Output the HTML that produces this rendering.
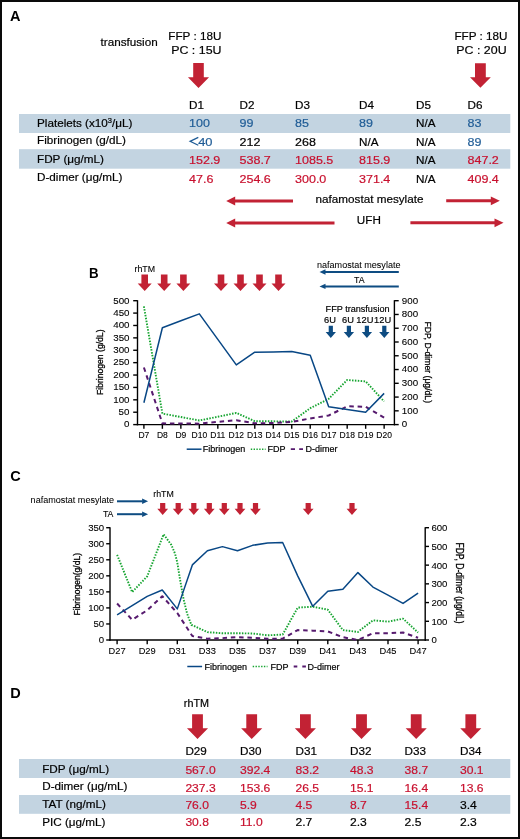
<!DOCTYPE html>
<html><head><meta charset="utf-8"><title>Figure</title>
<style>
html,body{margin:0;padding:0;background:#fff;}
body{width:520px;height:839px;overflow:hidden;font-family:"Liberation Sans",sans-serif;}
#fig{position:absolute;left:0;top:0;width:520px;height:839px;box-sizing:border-box;border:2px solid #0a0a0a;}
svg{position:absolute;left:0;top:0;will-change:transform;}
svg text{font-family:"Liberation Sans",sans-serif;}
</style></head>
<body>
<div id="fig"></div>
<svg width="520" height="839" viewBox="0 0 520 839">
<text x="10.00" y="21.30" font-size="14.50" fill="#000" font-weight="bold">A</text>
<text x="100.50" y="45.50" font-size="11.70" fill="#000" stroke="#000" stroke-width="0.20">transfusion</text>
<text x="168.30" y="39.60" font-size="11.70" fill="#000" stroke="#000" stroke-width="0.20">FFP : 18U</text>
<text x="171.20" y="53.80" font-size="11.70" fill="#000" textLength="50.30" lengthAdjust="spacingAndGlyphs" stroke="#000" stroke-width="0.20">PC : 15U</text>
<text x="454.40" y="39.60" font-size="11.70" fill="#000" stroke="#000" stroke-width="0.20">FFP : 18U</text>
<text x="456.30" y="53.60" font-size="11.70" fill="#000" textLength="50.30" lengthAdjust="spacingAndGlyphs" stroke="#000" stroke-width="0.20">PC : 20U</text>
<polygon points="193.20,63.10 203.80,63.10 203.80,77.20 209.05,77.20 198.50,88.10 187.95,77.20 193.20,77.20" fill="#C22234"/>
<polygon points="475.00,63.30 485.80,63.30 485.80,77.20 490.80,77.20 480.40,87.80 470.00,77.20 475.00,77.20" fill="#C22234"/>
<text x="189.00" y="109.00" font-size="11.70" fill="#000" stroke="#000" stroke-width="0.20">D1</text>
<text x="239.50" y="109.00" font-size="11.70" fill="#000" stroke="#000" stroke-width="0.20">D2</text>
<text x="295.00" y="109.00" font-size="11.70" fill="#000" stroke="#000" stroke-width="0.20">D3</text>
<text x="359.00" y="109.00" font-size="11.70" fill="#000" stroke="#000" stroke-width="0.20">D4</text>
<text x="416.00" y="109.00" font-size="11.70" fill="#000" stroke="#000" stroke-width="0.20">D5</text>
<text x="467.50" y="109.00" font-size="11.70" fill="#000" stroke="#000" stroke-width="0.20">D6</text>
<rect x="19" y="114" width="491.3" height="19" fill="#C3D4E1"/>
<rect x="19" y="149.2" width="491.3" height="19.5" fill="#C3D4E1"/>
<polyline points="198.3,137.4 190.1,141.35 198.3,145.3" fill="none" stroke="#1F5C96" stroke-width="1.25" stroke-linejoin="miter"/>
<text x="198.20" y="145.60" font-size="11.70" fill="#1F5C96" textLength="14.32" lengthAdjust="spacingAndGlyphs" stroke="#1F5C96" stroke-width="0.20">40</text>
<text x="37.00" y="127.00" font-size="11.70" fill="#000" stroke="#000" stroke-width="0.20">Platelets (x10<tspan font-size="7.5" dy="-4">3</tspan><tspan dy="4">/μL)</tspan></text>
<text x="189.00" y="127.10" font-size="11.70" fill="#1F5C96" textLength="20.89" lengthAdjust="spacingAndGlyphs" stroke="#1F5C96" stroke-width="0.20">100</text>
<text x="239.50" y="127.10" font-size="11.70" fill="#1F5C96" textLength="13.93" lengthAdjust="spacingAndGlyphs" stroke="#1F5C96" stroke-width="0.20">99</text>
<text x="295.00" y="127.10" font-size="11.70" fill="#1F5C96" textLength="13.93" lengthAdjust="spacingAndGlyphs" stroke="#1F5C96" stroke-width="0.20">85</text>
<text x="359.00" y="127.10" font-size="11.70" fill="#1F5C96" textLength="13.93" lengthAdjust="spacingAndGlyphs" stroke="#1F5C96" stroke-width="0.20">89</text>
<text x="416.00" y="127.10" font-size="11.70" fill="#000" textLength="19.50" lengthAdjust="spacingAndGlyphs" stroke="#000" stroke-width="0.20">N/A</text>
<text x="467.50" y="127.10" font-size="11.70" fill="#1F5C96" textLength="13.93" lengthAdjust="spacingAndGlyphs" stroke="#1F5C96" stroke-width="0.20">83</text>
<text x="37.00" y="144.30" font-size="11.70" fill="#000" stroke="#000" stroke-width="0.20">Fibrinogen (g/dL)</text>
<text x="239.50" y="145.60" font-size="11.70" fill="#000" textLength="20.89" lengthAdjust="spacingAndGlyphs" stroke="#000" stroke-width="0.20">212</text>
<text x="295.00" y="145.60" font-size="11.70" fill="#000" textLength="20.89" lengthAdjust="spacingAndGlyphs" stroke="#000" stroke-width="0.20">268</text>
<text x="359.00" y="145.60" font-size="11.70" fill="#000" textLength="19.50" lengthAdjust="spacingAndGlyphs" stroke="#000" stroke-width="0.20">N/A</text>
<text x="416.00" y="145.60" font-size="11.70" fill="#000" textLength="19.50" lengthAdjust="spacingAndGlyphs" stroke="#000" stroke-width="0.20">N/A</text>
<text x="467.50" y="145.60" font-size="11.70" fill="#1F5C96" textLength="13.93" lengthAdjust="spacingAndGlyphs" stroke="#1F5C96" stroke-width="0.20">89</text>
<text x="37.00" y="162.50" font-size="11.70" fill="#000" stroke="#000" stroke-width="0.20">FDP (μg/mL)</text>
<text x="189.00" y="164.20" font-size="11.70" fill="#C8102E" textLength="31.33" lengthAdjust="spacingAndGlyphs" stroke="#C8102E" stroke-width="0.20">152.9</text>
<text x="239.50" y="164.20" font-size="11.70" fill="#C8102E" textLength="31.33" lengthAdjust="spacingAndGlyphs" stroke="#C8102E" stroke-width="0.20">538.7</text>
<text x="295.00" y="164.20" font-size="11.70" fill="#C8102E" textLength="38.29" lengthAdjust="spacingAndGlyphs" stroke="#C8102E" stroke-width="0.20">1085.5</text>
<text x="359.00" y="164.20" font-size="11.70" fill="#C8102E" textLength="31.33" lengthAdjust="spacingAndGlyphs" stroke="#C8102E" stroke-width="0.20">815.9</text>
<text x="416.00" y="164.20" font-size="11.70" fill="#000" textLength="19.50" lengthAdjust="spacingAndGlyphs" stroke="#000" stroke-width="0.20">N/A</text>
<text x="467.50" y="164.20" font-size="11.70" fill="#C8102E" textLength="31.33" lengthAdjust="spacingAndGlyphs" stroke="#C8102E" stroke-width="0.20">847.2</text>
<text x="37.00" y="180.70" font-size="11.70" fill="#000" stroke="#000" stroke-width="0.20">D-dimer (μg/mL)</text>
<text x="189.00" y="182.60" font-size="11.70" fill="#C8102E" textLength="24.37" lengthAdjust="spacingAndGlyphs" stroke="#C8102E" stroke-width="0.20">47.6</text>
<text x="239.50" y="182.60" font-size="11.70" fill="#C8102E" textLength="31.33" lengthAdjust="spacingAndGlyphs" stroke="#C8102E" stroke-width="0.20">254.6</text>
<text x="295.00" y="182.60" font-size="11.70" fill="#C8102E" textLength="31.33" lengthAdjust="spacingAndGlyphs" stroke="#C8102E" stroke-width="0.20">300.0</text>
<text x="359.00" y="182.60" font-size="11.70" fill="#C8102E" textLength="31.33" lengthAdjust="spacingAndGlyphs" stroke="#C8102E" stroke-width="0.20">371.4</text>
<text x="416.00" y="182.60" font-size="11.70" fill="#000" textLength="19.50" lengthAdjust="spacingAndGlyphs" stroke="#000" stroke-width="0.20">N/A</text>
<text x="467.50" y="182.60" font-size="11.70" fill="#C8102E" textLength="31.33" lengthAdjust="spacingAndGlyphs" stroke="#C8102E" stroke-width="0.20">409.4</text>
<line x1="234.70" y1="201.00" x2="293.00" y2="201.00" stroke="#C22234" stroke-width="3.00"/>
<polygon points="226.20,201.00 235.20,196.60 235.20,205.40" fill="#C22234"/>
<line x1="446.20" y1="200.80" x2="491.30" y2="200.80" stroke="#C22234" stroke-width="3.00"/>
<polygon points="499.80,200.80 490.80,196.40 490.80,205.20" fill="#C22234"/>
<text x="315.60" y="203.20" font-size="11.70" fill="#000" stroke="#000" stroke-width="0.20">nafamostat mesylate</text>
<line x1="234.70" y1="223.00" x2="334.50" y2="223.00" stroke="#C22234" stroke-width="3.00"/>
<polygon points="226.20,223.00 235.20,218.60 235.20,227.40" fill="#C22234"/>
<line x1="410.40" y1="222.80" x2="495.00" y2="222.80" stroke="#C22234" stroke-width="3.00"/>
<polygon points="503.50,222.80 494.50,218.40 494.50,227.20" fill="#C22234"/>
<text x="356.80" y="224.40" font-size="11.70" fill="#000" stroke="#000" stroke-width="0.20">UFH</text>
<text x="89.00" y="277.60" font-size="14.50" fill="#000" font-weight="bold" textLength="9.60" lengthAdjust="spacingAndGlyphs">B</text>
<text x="134.50" y="272.40" font-size="8.80" fill="#000" stroke="#000" stroke-width="0.10">rhTM</text>
<polygon points="141.40,274.40 148.00,274.40 148.00,283.60 151.70,283.60 144.70,291.00 137.70,283.60 141.40,283.60" fill="#C22234"/>
<polygon points="160.90,274.40 167.50,274.40 167.50,283.60 171.20,283.60 164.20,291.00 157.20,283.60 160.90,283.60" fill="#C22234"/>
<polygon points="180.10,274.40 186.70,274.40 186.70,283.60 190.40,283.60 183.40,291.00 176.40,283.60 180.10,283.60" fill="#C22234"/>
<polygon points="217.70,274.40 224.30,274.40 224.30,283.60 228.00,283.60 221.00,291.00 214.00,283.60 217.70,283.60" fill="#C22234"/>
<polygon points="237.20,274.40 243.80,274.40 243.80,283.60 247.50,283.60 240.50,291.00 233.50,283.60 237.20,283.60" fill="#C22234"/>
<polygon points="256.20,274.40 262.80,274.40 262.80,283.60 266.50,283.60 259.50,291.00 252.50,283.60 256.20,283.60" fill="#C22234"/>
<polygon points="275.20,274.40 281.80,274.40 281.80,283.60 285.50,283.60 278.50,291.00 271.50,283.60 275.20,283.60" fill="#C22234"/>
<text x="317.00" y="267.80" font-size="9.05" fill="#000" stroke="#000" stroke-width="0.05">nafamostat mesylate</text>
<line x1="325.00" y1="272.00" x2="398.80" y2="272.00" stroke="#0E4C82" stroke-width="2.00"/>
<polygon points="319.50,272.00 325.50,269.30 325.50,274.70" fill="#0E4C82"/>
<text x="354.00" y="283.30" font-size="8.80" fill="#000" stroke="#000" stroke-width="0.10">TA</text>
<line x1="325.00" y1="286.40" x2="398.80" y2="286.40" stroke="#0E4C82" stroke-width="2.00"/>
<polygon points="319.50,286.40 325.50,283.70 325.50,289.10" fill="#0E4C82"/>
<text x="325.60" y="311.60" font-size="9.10" fill="#000" stroke="#000" stroke-width="0.18">FFP transfusion</text>
<text x="324.00" y="323.10" font-size="9.30" fill="#000" stroke="#000" stroke-width="0.18">6U</text>
<text x="342.00" y="323.10" font-size="9.30" fill="#000" stroke="#000" stroke-width="0.18">6U</text>
<text x="356.30" y="323.10" font-size="9.30" fill="#000" stroke="#000" stroke-width="0.18">12U</text>
<text x="374.10" y="323.10" font-size="9.30" fill="#000" stroke="#000" stroke-width="0.18">12U</text>
<polygon points="328.70,325.70 332.90,325.70 332.90,332.00 335.95,332.00 330.80,337.90 325.65,332.00 328.70,332.00" fill="#0E4C82"/>
<polygon points="346.80,325.70 351.00,325.70 351.00,332.00 354.05,332.00 348.90,337.90 343.75,332.00 346.80,332.00" fill="#0E4C82"/>
<polygon points="364.80,325.70 369.00,325.70 369.00,332.00 372.05,332.00 366.90,337.90 361.75,332.00 364.80,332.00" fill="#0E4C82"/>
<polygon points="382.20,325.70 386.40,325.70 386.40,332.00 389.45,332.00 384.30,337.90 379.15,332.00 382.20,332.00" fill="#0E4C82"/>
<g stroke="#000" stroke-width="1.4" fill="none">
<line x1="137.50" y1="300.20" x2="137.50" y2="425.30"/>
<line x1="394.40" y1="300.20" x2="394.40" y2="425.30"/>
<line x1="136.80" y1="424.60" x2="395.10" y2="424.60"/>
<line x1="133.20" y1="424.60" x2="137.50" y2="424.60"/>
<line x1="133.20" y1="412.21" x2="137.50" y2="412.21"/>
<line x1="133.20" y1="399.82" x2="137.50" y2="399.82"/>
<line x1="133.20" y1="387.43" x2="137.50" y2="387.43"/>
<line x1="133.20" y1="375.04" x2="137.50" y2="375.04"/>
<line x1="133.20" y1="362.65" x2="137.50" y2="362.65"/>
<line x1="133.20" y1="350.26" x2="137.50" y2="350.26"/>
<line x1="133.20" y1="337.87" x2="137.50" y2="337.87"/>
<line x1="133.20" y1="325.48" x2="137.50" y2="325.48"/>
<line x1="133.20" y1="313.09" x2="137.50" y2="313.09"/>
<line x1="133.20" y1="300.70" x2="137.50" y2="300.70"/>
<line x1="394.40" y1="424.60" x2="398.70" y2="424.60"/>
<line x1="394.40" y1="410.83" x2="398.70" y2="410.83"/>
<line x1="394.40" y1="397.07" x2="398.70" y2="397.07"/>
<line x1="394.40" y1="383.30" x2="398.70" y2="383.30"/>
<line x1="394.40" y1="369.53" x2="398.70" y2="369.53"/>
<line x1="394.40" y1="355.77" x2="398.70" y2="355.77"/>
<line x1="394.40" y1="342.00" x2="398.70" y2="342.00"/>
<line x1="394.40" y1="328.23" x2="398.70" y2="328.23"/>
<line x1="394.40" y1="314.47" x2="398.70" y2="314.47"/>
<line x1="394.40" y1="300.70" x2="398.70" y2="300.70"/>
<line x1="143.90" y1="424.60" x2="143.90" y2="428.80"/>
<line x1="162.38" y1="424.60" x2="162.38" y2="428.80"/>
<line x1="180.86" y1="424.60" x2="180.86" y2="428.80"/>
<line x1="199.34" y1="424.60" x2="199.34" y2="428.80"/>
<line x1="217.82" y1="424.60" x2="217.82" y2="428.80"/>
<line x1="236.30" y1="424.60" x2="236.30" y2="428.80"/>
<line x1="254.78" y1="424.60" x2="254.78" y2="428.80"/>
<line x1="273.26" y1="424.60" x2="273.26" y2="428.80"/>
<line x1="291.74" y1="424.60" x2="291.74" y2="428.80"/>
<line x1="310.22" y1="424.60" x2="310.22" y2="428.80"/>
<line x1="328.70" y1="424.60" x2="328.70" y2="428.80"/>
<line x1="347.18" y1="424.60" x2="347.18" y2="428.80"/>
<line x1="365.66" y1="424.60" x2="365.66" y2="428.80"/>
<line x1="384.14" y1="424.60" x2="384.14" y2="428.80"/>
</g>
<text x="129.50" y="427.40" font-size="9.30" fill="#000" text-anchor="end" textLength="5.43" lengthAdjust="spacingAndGlyphs" stroke="#000" stroke-width="0.10">0</text>
<text x="129.50" y="415.01" font-size="9.30" fill="#000" text-anchor="end" textLength="10.86" lengthAdjust="spacingAndGlyphs" stroke="#000" stroke-width="0.10">50</text>
<text x="129.50" y="402.62" font-size="9.30" fill="#000" text-anchor="end" textLength="16.29" lengthAdjust="spacingAndGlyphs" stroke="#000" stroke-width="0.10">100</text>
<text x="129.50" y="390.23" font-size="9.30" fill="#000" text-anchor="end" textLength="16.29" lengthAdjust="spacingAndGlyphs" stroke="#000" stroke-width="0.10">150</text>
<text x="129.50" y="377.84" font-size="9.30" fill="#000" text-anchor="end" textLength="16.29" lengthAdjust="spacingAndGlyphs" stroke="#000" stroke-width="0.10">200</text>
<text x="129.50" y="365.45" font-size="9.30" fill="#000" text-anchor="end" textLength="16.29" lengthAdjust="spacingAndGlyphs" stroke="#000" stroke-width="0.10">250</text>
<text x="129.50" y="353.06" font-size="9.30" fill="#000" text-anchor="end" textLength="16.29" lengthAdjust="spacingAndGlyphs" stroke="#000" stroke-width="0.10">300</text>
<text x="129.50" y="340.67" font-size="9.30" fill="#000" text-anchor="end" textLength="16.29" lengthAdjust="spacingAndGlyphs" stroke="#000" stroke-width="0.10">350</text>
<text x="129.50" y="328.28" font-size="9.30" fill="#000" text-anchor="end" textLength="16.29" lengthAdjust="spacingAndGlyphs" stroke="#000" stroke-width="0.10">400</text>
<text x="129.50" y="315.89" font-size="9.30" fill="#000" text-anchor="end" textLength="16.29" lengthAdjust="spacingAndGlyphs" stroke="#000" stroke-width="0.10">450</text>
<text x="129.50" y="303.50" font-size="9.30" fill="#000" text-anchor="end" textLength="16.29" lengthAdjust="spacingAndGlyphs" stroke="#000" stroke-width="0.10">500</text>
<text x="401.80" y="427.40" font-size="9.30" fill="#000" textLength="5.43" lengthAdjust="spacingAndGlyphs" stroke="#000" stroke-width="0.10">0</text>
<text x="401.80" y="413.63" font-size="9.30" fill="#000" textLength="16.29" lengthAdjust="spacingAndGlyphs" stroke="#000" stroke-width="0.10">100</text>
<text x="401.80" y="399.87" font-size="9.30" fill="#000" textLength="16.29" lengthAdjust="spacingAndGlyphs" stroke="#000" stroke-width="0.10">200</text>
<text x="401.80" y="386.10" font-size="9.30" fill="#000" textLength="16.29" lengthAdjust="spacingAndGlyphs" stroke="#000" stroke-width="0.10">300</text>
<text x="401.80" y="372.33" font-size="9.30" fill="#000" textLength="16.29" lengthAdjust="spacingAndGlyphs" stroke="#000" stroke-width="0.10">400</text>
<text x="401.80" y="358.57" font-size="9.30" fill="#000" textLength="16.29" lengthAdjust="spacingAndGlyphs" stroke="#000" stroke-width="0.10">500</text>
<text x="401.80" y="344.80" font-size="9.30" fill="#000" textLength="16.29" lengthAdjust="spacingAndGlyphs" stroke="#000" stroke-width="0.10">600</text>
<text x="401.80" y="331.03" font-size="9.30" fill="#000" textLength="16.29" lengthAdjust="spacingAndGlyphs" stroke="#000" stroke-width="0.10">700</text>
<text x="401.80" y="317.27" font-size="9.30" fill="#000" textLength="16.29" lengthAdjust="spacingAndGlyphs" stroke="#000" stroke-width="0.10">800</text>
<text x="401.80" y="303.50" font-size="9.30" fill="#000" textLength="16.29" lengthAdjust="spacingAndGlyphs" stroke="#000" stroke-width="0.10">900</text>
<text x="143.90" y="438.10" font-size="8.50" fill="#000" text-anchor="middle" stroke="#000" stroke-width="0.10">D7</text>
<text x="162.38" y="438.10" font-size="8.50" fill="#000" text-anchor="middle" stroke="#000" stroke-width="0.10">D8</text>
<text x="180.86" y="438.10" font-size="8.50" fill="#000" text-anchor="middle" stroke="#000" stroke-width="0.10">D9</text>
<text x="199.34" y="438.10" font-size="8.50" fill="#000" text-anchor="middle" stroke="#000" stroke-width="0.10">D10</text>
<text x="217.82" y="438.10" font-size="8.50" fill="#000" text-anchor="middle" stroke="#000" stroke-width="0.10">D11</text>
<text x="236.30" y="438.10" font-size="8.50" fill="#000" text-anchor="middle" stroke="#000" stroke-width="0.10">D12</text>
<text x="254.78" y="438.10" font-size="8.50" fill="#000" text-anchor="middle" stroke="#000" stroke-width="0.10">D13</text>
<text x="273.26" y="438.10" font-size="8.50" fill="#000" text-anchor="middle" stroke="#000" stroke-width="0.10">D14</text>
<text x="291.74" y="438.10" font-size="8.50" fill="#000" text-anchor="middle" stroke="#000" stroke-width="0.10">D15</text>
<text x="310.22" y="438.10" font-size="8.50" fill="#000" text-anchor="middle" stroke="#000" stroke-width="0.10">D16</text>
<text x="328.70" y="438.10" font-size="8.50" fill="#000" text-anchor="middle" stroke="#000" stroke-width="0.10">D17</text>
<text x="347.18" y="438.10" font-size="8.50" fill="#000" text-anchor="middle" stroke="#000" stroke-width="0.10">D18</text>
<text x="365.66" y="438.10" font-size="8.50" fill="#000" text-anchor="middle" stroke="#000" stroke-width="0.10">D19</text>
<text x="384.14" y="438.10" font-size="8.50" fill="#000" text-anchor="middle" stroke="#000" stroke-width="0.10">D20</text>
<text transform="translate(103.2,362.25) rotate(-90)" font-size="9.8" fill="#000" stroke="#000" stroke-width="0.3" text-anchor="middle" textLength="65.5" lengthAdjust="spacingAndGlyphs">Fibrinogen (g/dL)</text>
<text transform="translate(425.0,362.25) rotate(90)" font-size="9.9" fill="#000" stroke="#000" stroke-width="0.3" text-anchor="middle" textLength="81.6" lengthAdjust="spacingAndGlyphs">FDP, D-dimer (μg/dL)</text>
<polyline points="143.90,306.34 162.38,413.59 180.86,417.03 199.34,420.47 217.82,416.75 236.30,412.90 254.78,421.16 273.26,421.30 291.74,421.57 310.22,408.22 328.70,398.86 347.18,380.00 365.66,381.37 384.14,401.47" fill="none" stroke="#17A531" stroke-width="1.90" stroke-linejoin="round" stroke-linecap="butt" stroke-dasharray="1.5 1.4"/>
<polyline points="143.90,367.47 162.38,423.36 180.86,423.50 199.34,423.64 217.82,421.85 236.30,420.19 254.78,423.36 273.26,422.95 291.74,421.98 310.22,418.41 328.70,415.51 347.18,406.29 365.66,406.84 384.14,417.58" fill="none" stroke="#561A6E" stroke-width="2.00" stroke-linejoin="round" stroke-linecap="butt" stroke-dasharray="4.5 3.8"/>
<polyline points="143.90,402.79 162.38,327.71 180.86,320.77 199.34,313.83 217.82,339.36 236.30,364.88 254.78,352.24 273.26,351.99 291.74,351.50 310.22,355.22 328.70,406.76 347.18,409.48 365.66,412.21 384.14,393.38" fill="none" stroke="#084785" stroke-width="1.50" stroke-linejoin="round" stroke-linecap="butt"/>
<line x1="186.7" y1="449.2" x2="201.5" y2="449.2" stroke="#084785" stroke-width="1.5"/>
<text x="202.70" y="452.40" font-size="9.00" fill="#000" stroke="#000" stroke-width="0.20">Fibrinogen</text>
<line x1="250.8" y1="449.2" x2="265.6" y2="449.2" stroke="#17A531" stroke-width="1.6" stroke-dasharray="1.4 1.4"/>
<text x="267.60" y="452.40" font-size="9.00" fill="#000" stroke="#000" stroke-width="0.20">FDP</text>
<line x1="290.8" y1="449.2" x2="303" y2="449.2" stroke="#561A6E" stroke-width="1.8" stroke-dasharray="4.2 4.2"/>
<text x="305.60" y="452.40" font-size="9.00" fill="#000" stroke="#000" stroke-width="0.20">D-dimer</text>
<text x="10.20" y="481.30" font-size="14.50" fill="#000" font-weight="bold">C</text>
<text x="30.60" y="503.40" font-size="9.05" fill="#000" stroke="#000" stroke-width="0.05">nafamostat mesylate</text>
<text x="102.90" y="517.40" font-size="8.80" fill="#000" stroke="#000" stroke-width="0.10">TA</text>
<line x1="117.00" y1="501.30" x2="142.60" y2="501.30" stroke="#0E4C82" stroke-width="2.00"/>
<polygon points="148.10,501.30 142.10,498.50 142.10,504.10" fill="#0E4C82"/>
<line x1="117.00" y1="514.20" x2="142.60" y2="514.20" stroke="#0E4C82" stroke-width="2.00"/>
<polygon points="148.10,514.20 142.10,511.40 142.10,517.00" fill="#0E4C82"/>
<text x="153.30" y="496.60" font-size="8.80" fill="#000" stroke="#000" stroke-width="0.10">rhTM</text>
<polygon points="160.10,503.00 165.30,503.00 165.30,508.80 168.10,508.80 162.70,514.90 157.30,508.80 160.10,508.80" fill="#C22234"/>
<polygon points="175.60,503.00 180.80,503.00 180.80,508.80 183.60,508.80 178.20,514.90 172.80,508.80 175.60,508.80" fill="#C22234"/>
<polygon points="191.20,503.00 196.40,503.00 196.40,508.80 199.20,508.80 193.80,514.90 188.40,508.80 191.20,508.80" fill="#C22234"/>
<polygon points="206.70,503.00 211.90,503.00 211.90,508.80 214.70,508.80 209.30,514.90 203.90,508.80 206.70,508.80" fill="#C22234"/>
<polygon points="221.70,503.00 226.90,503.00 226.90,508.80 229.70,508.80 224.30,514.90 218.90,508.80 221.70,508.80" fill="#C22234"/>
<polygon points="237.40,503.00 242.60,503.00 242.60,508.80 245.40,508.80 240.00,514.90 234.60,508.80 237.40,508.80" fill="#C22234"/>
<polygon points="252.90,503.00 258.10,503.00 258.10,508.80 260.90,508.80 255.50,514.90 250.10,508.80 252.90,508.80" fill="#C22234"/>
<polygon points="305.60,503.00 310.80,503.00 310.80,508.80 313.60,508.80 308.20,514.90 302.80,508.80 305.60,508.80" fill="#C22234"/>
<polygon points="349.40,503.00 354.60,503.00 354.60,508.80 357.40,508.80 352.00,514.90 346.60,508.80 349.40,508.80" fill="#C22234"/>
<g stroke="#000" stroke-width="1.4" fill="none">
<line x1="110.00" y1="527.20" x2="110.00" y2="640.70"/>
<line x1="425.20" y1="527.20" x2="425.20" y2="640.70"/>
<line x1="109.30" y1="640.00" x2="425.90" y2="640.00"/>
<line x1="106.20" y1="640.00" x2="110.00" y2="640.00"/>
<line x1="106.20" y1="623.96" x2="110.00" y2="623.96"/>
<line x1="106.20" y1="607.91" x2="110.00" y2="607.91"/>
<line x1="106.20" y1="591.87" x2="110.00" y2="591.87"/>
<line x1="106.20" y1="575.83" x2="110.00" y2="575.83"/>
<line x1="106.20" y1="559.79" x2="110.00" y2="559.79"/>
<line x1="106.20" y1="543.74" x2="110.00" y2="543.74"/>
<line x1="106.20" y1="527.70" x2="110.00" y2="527.70"/>
<line x1="425.20" y1="640.00" x2="429.00" y2="640.00"/>
<line x1="425.20" y1="621.28" x2="429.00" y2="621.28"/>
<line x1="425.20" y1="602.57" x2="429.00" y2="602.57"/>
<line x1="425.20" y1="583.85" x2="429.00" y2="583.85"/>
<line x1="425.20" y1="565.13" x2="429.00" y2="565.13"/>
<line x1="425.20" y1="546.42" x2="429.00" y2="546.42"/>
<line x1="425.20" y1="527.70" x2="429.00" y2="527.70"/>
<line x1="117.10" y1="640.00" x2="117.10" y2="644.20"/>
<line x1="147.20" y1="640.00" x2="147.20" y2="644.20"/>
<line x1="177.30" y1="640.00" x2="177.30" y2="644.20"/>
<line x1="207.40" y1="640.00" x2="207.40" y2="644.20"/>
<line x1="237.50" y1="640.00" x2="237.50" y2="644.20"/>
<line x1="267.60" y1="640.00" x2="267.60" y2="644.20"/>
<line x1="297.70" y1="640.00" x2="297.70" y2="644.20"/>
<line x1="327.80" y1="640.00" x2="327.80" y2="644.20"/>
<line x1="357.90" y1="640.00" x2="357.90" y2="644.20"/>
<line x1="388.00" y1="640.00" x2="388.00" y2="644.20"/>
<line x1="418.10" y1="640.00" x2="418.10" y2="644.20"/>
</g>
<text x="104.20" y="643.40" font-size="9.60" fill="#000" text-anchor="end" stroke="#000" stroke-width="0.10">0</text>
<text x="104.20" y="627.36" font-size="9.60" fill="#000" text-anchor="end" stroke="#000" stroke-width="0.10">50</text>
<text x="104.20" y="611.31" font-size="9.60" fill="#000" text-anchor="end" stroke="#000" stroke-width="0.10">100</text>
<text x="104.20" y="595.27" font-size="9.60" fill="#000" text-anchor="end" stroke="#000" stroke-width="0.10">150</text>
<text x="104.20" y="579.23" font-size="9.60" fill="#000" text-anchor="end" stroke="#000" stroke-width="0.10">200</text>
<text x="104.20" y="563.19" font-size="9.60" fill="#000" text-anchor="end" stroke="#000" stroke-width="0.10">250</text>
<text x="104.20" y="547.14" font-size="9.60" fill="#000" text-anchor="end" stroke="#000" stroke-width="0.10">300</text>
<text x="104.20" y="531.10" font-size="9.60" fill="#000" text-anchor="end" stroke="#000" stroke-width="0.10">350</text>
<text x="431.40" y="643.40" font-size="9.60" fill="#000" stroke="#000" stroke-width="0.10">0</text>
<text x="431.40" y="624.68" font-size="9.60" fill="#000" stroke="#000" stroke-width="0.10">100</text>
<text x="431.40" y="605.97" font-size="9.60" fill="#000" stroke="#000" stroke-width="0.10">200</text>
<text x="431.40" y="587.25" font-size="9.60" fill="#000" stroke="#000" stroke-width="0.10">300</text>
<text x="431.40" y="568.53" font-size="9.60" fill="#000" stroke="#000" stroke-width="0.10">400</text>
<text x="431.40" y="549.82" font-size="9.60" fill="#000" stroke="#000" stroke-width="0.10">500</text>
<text x="431.40" y="531.10" font-size="9.60" fill="#000" stroke="#000" stroke-width="0.10">600</text>
<text x="117.10" y="653.60" font-size="9.30" fill="#000" text-anchor="middle" stroke="#000" stroke-width="0.10">D27</text>
<text x="147.20" y="653.60" font-size="9.30" fill="#000" text-anchor="middle" stroke="#000" stroke-width="0.10">D29</text>
<text x="177.30" y="653.60" font-size="9.30" fill="#000" text-anchor="middle" stroke="#000" stroke-width="0.10">D31</text>
<text x="207.40" y="653.60" font-size="9.30" fill="#000" text-anchor="middle" stroke="#000" stroke-width="0.10">D33</text>
<text x="237.50" y="653.60" font-size="9.30" fill="#000" text-anchor="middle" stroke="#000" stroke-width="0.10">D35</text>
<text x="267.60" y="653.60" font-size="9.30" fill="#000" text-anchor="middle" stroke="#000" stroke-width="0.10">D37</text>
<text x="297.70" y="653.60" font-size="9.30" fill="#000" text-anchor="middle" stroke="#000" stroke-width="0.10">D39</text>
<text x="327.80" y="653.60" font-size="9.30" fill="#000" text-anchor="middle" stroke="#000" stroke-width="0.10">D41</text>
<text x="357.90" y="653.60" font-size="9.30" fill="#000" text-anchor="middle" stroke="#000" stroke-width="0.10">D43</text>
<text x="388.00" y="653.60" font-size="9.30" fill="#000" text-anchor="middle" stroke="#000" stroke-width="0.10">D45</text>
<text x="418.10" y="653.60" font-size="9.30" fill="#000" text-anchor="middle" stroke="#000" stroke-width="0.10">D47</text>
<text transform="translate(80.2,584.25) rotate(-90)" font-size="9.6" fill="#000" stroke="#000" stroke-width="0.3" text-anchor="middle" textLength="62.5" lengthAdjust="spacingAndGlyphs">Fibrinogen(g/dL)</text>
<text transform="translate(456.3,583.0) rotate(90)" font-size="10.0" fill="#000" stroke="#000" stroke-width="0.3" text-anchor="middle" textLength="81.2" lengthAdjust="spacingAndGlyphs">FDP, D-dimer (μg/dL)</text>
<polyline points="117.10,554.84 132.15,592.09 147.20,576.36 163.60,534.30 171.40,545.00 175.00,553.60 177.20,562.00 180.00,579.30 183.60,599.30 187.10,613.60 191.40,625.00 192.35,625.21 207.40,632.14 222.45,633.26 237.50,633.26 252.55,633.45 267.60,635.32 282.65,634.57 297.70,607.62 312.75,606.68 327.80,609.68 342.85,630.08 357.90,631.95 372.95,620.35 388.00,621.66 403.05,618.66 418.10,632.51" fill="none" stroke="#17A531" stroke-width="1.90" stroke-linejoin="round" stroke-linecap="butt" stroke-dasharray="1.5 1.4"/>
<polyline points="117.10,603.50 132.15,619.79 147.20,610.24 162.25,596.20 177.30,613.05 192.35,636.07 207.40,638.69 222.45,638.13 237.50,637.19 252.55,637.75 267.60,638.69 282.65,638.69 297.70,630.08 312.75,630.64 327.80,631.39 342.85,637.19 357.90,640.00 372.95,633.26 388.00,633.26 403.05,632.51 418.10,637.75" fill="none" stroke="#561A6E" stroke-width="2.00" stroke-linejoin="round" stroke-linecap="butt" stroke-dasharray="4.5 3.8"/>
<polyline points="117.10,614.97 132.15,605.67 147.20,596.36 162.25,589.95 177.30,608.88 192.35,564.92 207.40,550.80 222.45,546.63 237.50,550.80 252.55,545.35 267.60,543.10 282.65,542.46 297.70,575.83 312.75,606.31 327.80,591.23 342.85,589.30 357.90,572.62 372.95,587.06 388.00,595.08 403.05,603.42 418.10,593.15" fill="none" stroke="#084785" stroke-width="1.50" stroke-linejoin="round" stroke-linecap="butt"/>
<line x1="187.3" y1="666.5" x2="202.1" y2="666.5" stroke="#084785" stroke-width="1.5"/>
<text x="204.40" y="669.50" font-size="9.00" fill="#000" stroke="#000" stroke-width="0.20">Fibrinogen</text>
<line x1="252.7" y1="666.5" x2="267.5" y2="666.5" stroke="#17A531" stroke-width="1.6" stroke-dasharray="1.4 1.4"/>
<text x="270.40" y="669.50" font-size="9.00" fill="#000" stroke="#000" stroke-width="0.20">FDP</text>
<line x1="293.7" y1="666.5" x2="306.2" y2="666.5" stroke="#561A6E" stroke-width="1.8" stroke-dasharray="3.6 5"/>
<text x="307.50" y="669.50" font-size="9.00" fill="#000" stroke="#000" stroke-width="0.20">D-dimer</text>
<text x="10.20" y="697.80" font-size="14.50" fill="#000" font-weight="bold">D</text>
<text x="183.80" y="707.20" font-size="10.80" fill="#000" stroke="#000" stroke-width="0.20">rhTM</text>
<polygon points="192.10,714.20 202.90,714.20 202.90,728.30 208.05,728.30 197.50,739.00 186.95,728.30 192.10,728.30" fill="#C22234"/>
<polygon points="246.30,714.20 257.10,714.20 257.10,728.30 262.25,728.30 251.70,739.00 241.15,728.30 246.30,728.30" fill="#C22234"/>
<polygon points="300.00,714.20 310.80,714.20 310.80,728.30 315.95,728.30 305.40,739.00 294.85,728.30 300.00,728.30" fill="#C22234"/>
<polygon points="356.10,714.20 366.90,714.20 366.90,728.30 372.05,728.30 361.50,739.00 350.95,728.30 356.10,728.30" fill="#C22234"/>
<polygon points="410.80,714.20 421.60,714.20 421.60,728.30 426.75,728.30 416.20,739.00 405.65,728.30 410.80,728.30" fill="#C22234"/>
<polygon points="465.40,714.20 476.20,714.20 476.20,728.30 481.35,728.30 470.80,739.00 460.25,728.30 465.40,728.30" fill="#C22234"/>
<text x="185.40" y="754.50" font-size="11.70" fill="#000" stroke="#000" stroke-width="0.20">D29</text>
<text x="240.00" y="754.50" font-size="11.70" fill="#000" stroke="#000" stroke-width="0.20">D30</text>
<text x="295.50" y="754.50" font-size="11.70" fill="#000" stroke="#000" stroke-width="0.20">D31</text>
<text x="350.00" y="754.50" font-size="11.70" fill="#000" stroke="#000" stroke-width="0.20">D32</text>
<text x="404.60" y="754.50" font-size="11.70" fill="#000" stroke="#000" stroke-width="0.20">D33</text>
<text x="460.00" y="754.50" font-size="11.70" fill="#000" stroke="#000" stroke-width="0.20">D34</text>
<rect x="19" y="759" width="491.3" height="19" fill="#C3D4E1"/>
<rect x="19" y="795" width="491.3" height="18.8" fill="#C3D4E1"/>
<text x="42.20" y="772.90" font-size="11.70" fill="#000" stroke="#000" stroke-width="0.20">FDP (μg/mL)</text>
<text x="185.40" y="773.60" font-size="11.70" fill="#C8102E" textLength="30.30" lengthAdjust="spacingAndGlyphs" stroke="#C8102E" stroke-width="0.20">567.0</text>
<text x="240.00" y="773.60" font-size="11.70" fill="#C8102E" textLength="30.30" lengthAdjust="spacingAndGlyphs" stroke="#C8102E" stroke-width="0.20">392.4</text>
<text x="295.50" y="773.60" font-size="11.70" fill="#C8102E" textLength="23.57" lengthAdjust="spacingAndGlyphs" stroke="#C8102E" stroke-width="0.20">83.2</text>
<text x="350.00" y="773.60" font-size="11.70" fill="#C8102E" textLength="23.57" lengthAdjust="spacingAndGlyphs" stroke="#C8102E" stroke-width="0.20">48.3</text>
<text x="404.60" y="773.60" font-size="11.70" fill="#C8102E" textLength="23.57" lengthAdjust="spacingAndGlyphs" stroke="#C8102E" stroke-width="0.20">38.7</text>
<text x="460.00" y="773.60" font-size="11.70" fill="#C8102E" textLength="23.57" lengthAdjust="spacingAndGlyphs" stroke="#C8102E" stroke-width="0.20">30.1</text>
<text x="42.20" y="789.90" font-size="11.70" fill="#000" stroke="#000" stroke-width="0.20">D-dimer (μg/mL)</text>
<text x="185.40" y="791.80" font-size="11.70" fill="#C8102E" textLength="30.30" lengthAdjust="spacingAndGlyphs" stroke="#C8102E" stroke-width="0.20">237.3</text>
<text x="240.00" y="791.80" font-size="11.70" fill="#C8102E" textLength="30.30" lengthAdjust="spacingAndGlyphs" stroke="#C8102E" stroke-width="0.20">153.6</text>
<text x="295.50" y="791.80" font-size="11.70" fill="#C8102E" textLength="23.57" lengthAdjust="spacingAndGlyphs" stroke="#C8102E" stroke-width="0.20">26.5</text>
<text x="350.00" y="791.80" font-size="11.70" fill="#C8102E" textLength="23.57" lengthAdjust="spacingAndGlyphs" stroke="#C8102E" stroke-width="0.20">15.1</text>
<text x="404.60" y="791.80" font-size="11.70" fill="#C8102E" textLength="23.57" lengthAdjust="spacingAndGlyphs" stroke="#C8102E" stroke-width="0.20">16.4</text>
<text x="460.00" y="791.80" font-size="11.70" fill="#C8102E" textLength="23.57" lengthAdjust="spacingAndGlyphs" stroke="#C8102E" stroke-width="0.20">13.6</text>
<text x="42.20" y="808.40" font-size="11.70" fill="#000" stroke="#000" stroke-width="0.20">TAT (ng/mL)</text>
<text x="185.40" y="808.50" font-size="11.70" fill="#C8102E" textLength="23.57" lengthAdjust="spacingAndGlyphs" stroke="#C8102E" stroke-width="0.20">76.0</text>
<text x="240.00" y="808.50" font-size="11.70" fill="#C8102E" textLength="16.83" lengthAdjust="spacingAndGlyphs" stroke="#C8102E" stroke-width="0.20">5.9</text>
<text x="295.50" y="808.50" font-size="11.70" fill="#C8102E" textLength="16.83" lengthAdjust="spacingAndGlyphs" stroke="#C8102E" stroke-width="0.20">4.5</text>
<text x="350.00" y="808.50" font-size="11.70" fill="#C8102E" textLength="16.83" lengthAdjust="spacingAndGlyphs" stroke="#C8102E" stroke-width="0.20">8.7</text>
<text x="404.60" y="808.50" font-size="11.70" fill="#C8102E" textLength="23.57" lengthAdjust="spacingAndGlyphs" stroke="#C8102E" stroke-width="0.20">15.4</text>
<text x="460.00" y="808.50" font-size="11.70" fill="#000" textLength="16.83" lengthAdjust="spacingAndGlyphs" stroke="#000" stroke-width="0.20">3.4</text>
<text x="42.20" y="825.90" font-size="11.70" fill="#000" stroke="#000" stroke-width="0.20">PIC (μg/mL)</text>
<text x="185.40" y="826.20" font-size="11.70" fill="#C8102E" textLength="23.57" lengthAdjust="spacingAndGlyphs" stroke="#C8102E" stroke-width="0.20">30.8</text>
<text x="240.00" y="826.20" font-size="11.70" fill="#C8102E" textLength="22.67" lengthAdjust="spacingAndGlyphs" stroke="#C8102E" stroke-width="0.20">11.0</text>
<text x="295.50" y="826.20" font-size="11.70" fill="#000" textLength="16.83" lengthAdjust="spacingAndGlyphs" stroke="#000" stroke-width="0.20">2.7</text>
<text x="350.00" y="826.20" font-size="11.70" fill="#000" textLength="16.83" lengthAdjust="spacingAndGlyphs" stroke="#000" stroke-width="0.20">2.3</text>
<text x="404.60" y="826.20" font-size="11.70" fill="#000" textLength="16.83" lengthAdjust="spacingAndGlyphs" stroke="#000" stroke-width="0.20">2.5</text>
<text x="460.00" y="826.20" font-size="11.70" fill="#000" textLength="16.83" lengthAdjust="spacingAndGlyphs" stroke="#000" stroke-width="0.20">2.3</text>
</svg>
</body></html>
